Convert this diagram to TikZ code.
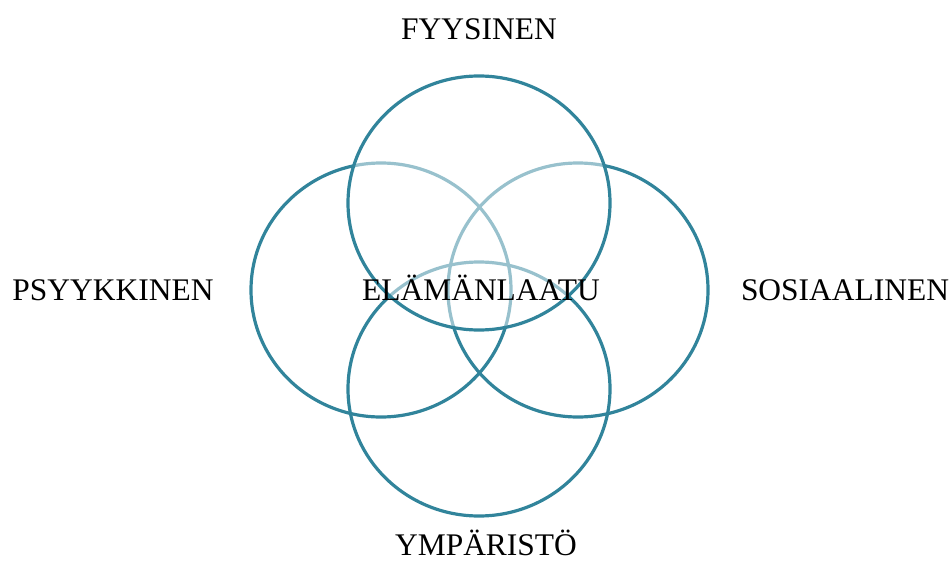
\documentclass[tikz,border=0pt]{standalone}
\usepackage{fontspec}
\setmainfont{Liberation Serif}
\definecolor{RingTeal}{HTML}{31849B}

\begin{document}
\begin{tikzpicture}[x=0.75pt,y=-0.75pt,every node/.style={font=\fontsize{23.6}{28}\selectfont,anchor=base,inner sep=0pt},ring/.style={draw=RingTeal,line width=2.4pt}]
\useasboundingbox (0,0) rectangle (952,563);
\draw[ring] (381,290) ellipse [x radius=130,y radius=127];\draw[ring] (578,290) ellipse [x radius=130,y radius=127];
\draw[ring] (479,389) ellipse [x radius=131,y radius=127];
\draw[ring,fill=white,fill opacity=.5] (479,203) ellipse [x radius=131,y radius=127];
\node (fyysinen) at (479,40){FYYSINEN};\node (psyykkinen) at (113,300){PSYYKKINEN};\node (sosiaalinen) at (845,300){SOSIAALINEN};
\node (ymparisto) at (486,555){YMPÄRISTÖ};\node (elamanlaatu) at (481,300){ELÄMÄNLAATU};
\end{tikzpicture}
\end{document}
